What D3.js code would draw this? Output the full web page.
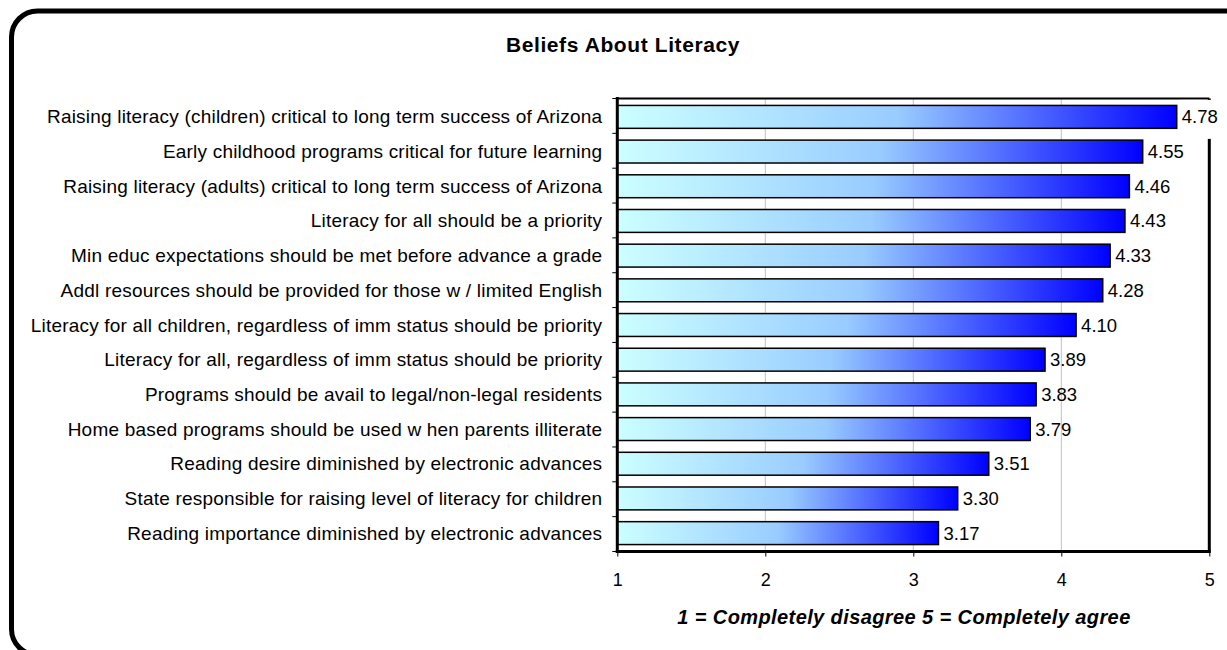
<!DOCTYPE html>
<html>
<head>
<meta charset="utf-8">
<script src="https://cdn.jsdelivr.net/npm/d3@7"></script>
<style>
  html, body { margin: 0; padding: 0; background: #fff; }
  svg { display: block; }
  text { font-family: "Liberation Sans", Arial, sans-serif; fill: #000; }
</style>
</head>
<body>
<svg id="chart" width="1227" height="650"></svg>
<script>
// Survey statements (top to bottom) and their mean agreement scores
const statements = [
  "Raising literacy (children) critical to long term success of Arizona",
  "Early childhood programs critical for future learning",
  "Raising literacy (adults) critical to long term success of Arizona",
  "Literacy for all should be a priority",
  "Min educ expectations should be met before advance a grade",
  "Addl resources should be provided for those w / limited English",
  "Literacy for all children, regardless of imm status should be priority",
  "Literacy for all, regardless of imm status should be priority",
  "Programs should be avail to legal/non-legal residents",
  "Home based programs should be used w hen parents illiterate",
  "Reading desire diminished by electronic advances",
  "State responsible for raising level of literacy for children",
  "Reading importance diminished by electronic advances"
];
const scores = [4.78, 4.55, 4.46, 4.43, 4.33, 4.28, 4.10, 3.89, 3.83, 3.79, 3.51, 3.30, 3.17];
const xTicks = [1, 2, 3, 4, 5];

const chartTitle = "Beliefs About Literacy";
const axisTitle = "1 = Completely disagree 5 = Completely agree";

const rows = statements.map((s, i) => ({ label: s, value: scores[i] }));

const svg = d3.select("#chart");

// Rounded outer frame
svg.append("rect")
  .attr("x", 11.5).attr("y", 11).attr("width", 1240).attr("height", 644)
  .attr("rx", 26).attr("ry", 26)
  .attr("fill", "#fff").attr("stroke", "#000").attr("stroke-width", 5);

const plot = { left: 617.3, right: 1209.3, top: 98.5, bottom: 551.5 };

const x = d3.scaleLinear().domain([1, 5]).range([plot.left, plot.right]);
const y = d3.scaleBand()
  .domain(statements)
  .range([plot.top, plot.bottom])
  .paddingInner(0.34)
  .paddingOuter(0.2);

// Horizontal gradient used by each bar (objectBoundingBox => per bar)
const defs = svg.append("defs");
const grad = defs.append("linearGradient")
  .attr("id", "barFill")
  .attr("x1", "0").attr("y1", "0").attr("x2", "1").attr("y2", "0");
grad.append("stop").attr("offset", "0%").attr("stop-color", "#CCFFFF");
grad.append("stop").attr("offset", "50%").attr("stop-color", "#99CCFF");
grad.append("stop").attr("offset", "100%").attr("stop-color", "#0000FF");

// Title
svg.append("text")
  .attr("x", 623).attr("y", 44)
  .attr("text-anchor", "middle").attr("dominant-baseline", "central")
  .style("font-size", "21px").style("font-weight", "bold")
  .style("letter-spacing", "0.6px")
  .text(chartTitle);

// Vertical gridlines
svg.append("g")
  .selectAll("line")
  .data(xTicks.slice(1))
  .join("line")
  .attr("x1", d => x(d)).attr("x2", d => x(d))
  .attr("y1", plot.top).attr("y2", plot.bottom)
  .attr("stroke", "#c0c0c0").attr("stroke-width", 1);

// Plot frame: thin top, heavy right
svg.append("line")
  .attr("x1", plot.left).attr("x2", plot.right)
  .attr("y1", plot.top).attr("y2", plot.top)
  .attr("stroke", "#000").attr("stroke-width", 2);
svg.append("line")
  .attr("x1", plot.right).attr("x2", plot.right)
  .attr("y1", plot.top).attr("y2", plot.bottom)
  .attr("stroke", "#000").attr("stroke-width", 3);

// Bars
svg.append("g")
  .selectAll("rect")
  .data(rows)
  .join("rect")
  .attr("x", x(1))
  .attr("y", d => y(d.label))
  .attr("width", d => x(d.value) - x(1))
  .attr("height", y.bandwidth())
  .attr("fill", "url(#barFill)")
  .attr("stroke", "#000").attr("stroke-width", 1.5);

// Value labels; the first one sits on a white box over the frame
const vl = svg.append("g")
  .selectAll("g")
  .data(rows)
  .join("g")
  .attr("transform", d => `translate(${x(d.value) + 3},${y(d.label) + y.bandwidth() / 2})`);
vl.filter((d, i) => i === 0).append("rect")
  .attr("x", 0).attr("y", -17).attr("width", 46).attr("height", 39)
  .attr("fill", "#fff");
vl.append("text")
  .attr("x", 2).attr("y", 0)
  .attr("dominant-baseline", "central")
  .style("font-size", "18.5px")
  .text(d => d.value.toFixed(2));

// Category axis (left)
const yAxis = svg.append("g")
  .attr("transform", `translate(${plot.left},0)`);
yAxis.append("line")
  .attr("x1", 0).attr("x2", 0)
  .attr("y1", plot.top - 1.5).attr("y2", plot.bottom + 1.5)
  .attr("stroke", "#000").attr("stroke-width", 3);
const bounds = d3.range(statements.length + 1).map(i => plot.top + i * (plot.bottom - plot.top) / statements.length);
yAxis.selectAll("line.tick")
  .data(bounds)
  .join("line")
  .attr("class", "tick")
  .attr("x1", -5).attr("x2", 0)
  .attr("y1", d => d).attr("y2", d => d)
  .attr("stroke", "#000").attr("stroke-width", 1);
yAxis.selectAll("text")
  .data(statements)
  .join("text")
  .attr("x", -15)
  .attr("y", d => y(d) + y.bandwidth() / 2)
  .attr("text-anchor", "end").attr("dominant-baseline", "central")
  .style("font-size", "19px")
  .style("letter-spacing", "0.2px")
  .text(d => d);

// Value axis (bottom)
const xAxis = svg.append("g")
  .attr("transform", `translate(0,${plot.bottom})`)
  .call(d3.axisBottom(x).tickValues(xTicks).tickFormat(d3.format("d")).tickSize(5).tickPadding(17));
xAxis.select(".domain").attr("stroke", "#000").attr("stroke-width", 3)
  .attr("d", `M${plot.left - 1.5},0H${plot.right + 1.5}`);
xAxis.selectAll(".tick line").attr("stroke", "#000");
xAxis.selectAll(".tick text")
  .style("font-family", "'Liberation Sans', Arial, sans-serif")
  .style("font-size", "18px").attr("fill", "#000");

// Axis title
svg.append("text")
  .attr("x", 904).attr("y", 617)
  .attr("text-anchor", "middle").attr("dominant-baseline", "central")
  .style("font-size", "20px").style("font-weight", "bold").style("font-style", "italic")
  .style("letter-spacing", "0.4px")
  .text(axisTitle);
</script>
</body>
</html>
